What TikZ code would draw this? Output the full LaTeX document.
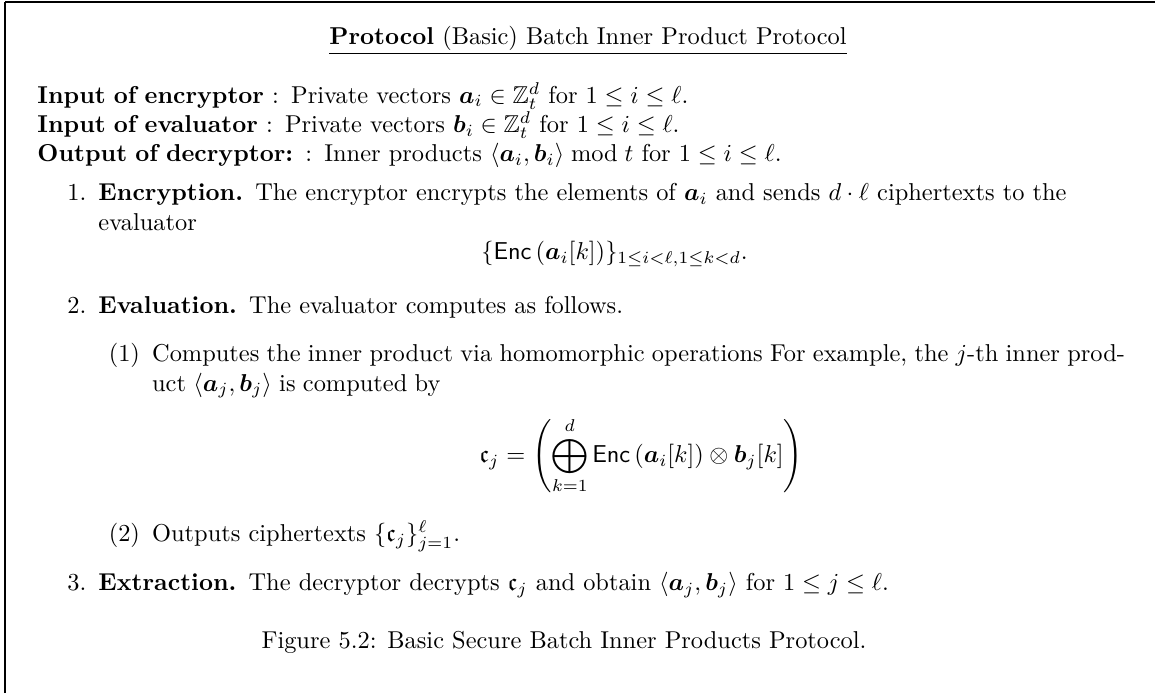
\documentclass[tikz,border=0pt]{standalone}
\usepackage{amsmath,amssymb}
\usetikzlibrary{backgrounds}
\pgfdeclarelayer{edgelayer}
\pgfdeclarelayer{nodelayer}
\pgfsetlayers{edgelayer,nodelayer,main}
\tikzstyle{none}=[inner sep=0pt]
\tikzstyle{head}=[inner sep=0pt,anchor=base]
\tikzstyle{body}=[inner sep=0pt,anchor=north west,text width=448pt]
\tikzstyle{frame}=[line width=0.6pt]
\renewcommand{\labelenumii}{(\arabic{enumii})}
\newcommand{\va}{\boldsymbol{a}}
\newcommand{\vb}{\boldsymbol{b}}

\begin{document}
\begin{tikzpicture}[x=0.40984pt,y=-0.40984pt]
	\useasboundingbox (0,0) rectangle (1155,693);
	\begin{pgfonlayer}{nodelayer}
		\node [style=none] (0) at (5, 693) {};
		\node [style=none] (1) at (5, 2) {};
		\node [style=none] (2) at (1155, 2) {};
		\node [style=head] (3) at (588, 44) {\underline{\textbf{Protocol} (Basic) Batch Inner Product Protocol}};
		\node [style=body] (4) at (37, 82) {%
			\textbf{Input of encryptor} : Private vectors $\va_i \in \mathbb{Z}_t^d$ for $1 \le i \le \ell$.\\
			\textbf{Input of evaluator} : Private vectors $\vb_i \in \mathbb{Z}_t^d$ for $1 \le i \le \ell$.\\
			\textbf{Output of decryptor:} : Inner products $\langle \va_i, \vb_i \rangle \bmod t$ for $1 \le i \le \ell$.
			\vspace{-4pt}
			\begin{enumerate}
				\item \textbf{Encryption.} The encryptor encrypts the elements of $\va_i$ and sends $d \cdot \ell$ ciphertexts to the evaluator
				\[ \{\mathsf{Enc}\left(\va_i[k]\right)\}_{1 \le i < \ell, 1 \le k < d}. \]
				\item \textbf{Evaluation.} The evaluator computes as follows.
				\begin{enumerate}
					\item \spaceskip=3pt plus 2pt minus 1.5pt
					Computes the inner product via homomorphic operations For example, the $j$-th inner prod-\linebreak uct $\langle \va_j, \vb_j \rangle$ is computed by
					\setlength{\abovedisplayskip}{7pt}\setlength{\belowdisplayskip}{8pt}
					\[ \mathfrak{c}_j = \left( \bigoplus_{k=1}^{d} \mathsf{Enc}\left(\va_i[k]\right) \otimes \vb_j[k] \right) \]
					\spaceskip=0pt
					\item Outputs ciphertexts $\{\mathfrak{c}_j\}_{j=1}^{\ell}$.
				\end{enumerate}
				\item \textbf{Extraction.} The decryptor decrypts $\mathfrak{c}_j$ and obtain $\langle \va_j, \vb_j \rangle$ for $1 \le j \le \ell$.
			\end{enumerate}};
		\node [style=head] (5) at (564, 648) {Figure 5.2: Basic Secure Batch Inner Products Protocol.};
	\end{pgfonlayer}
	\begin{pgfonlayer}{edgelayer}
		\draw [style=frame] (0.center) to (1.center);
		\draw [style=frame] (1.center) to (2.center);
	\end{pgfonlayer}
\end{tikzpicture}
\end{document}
